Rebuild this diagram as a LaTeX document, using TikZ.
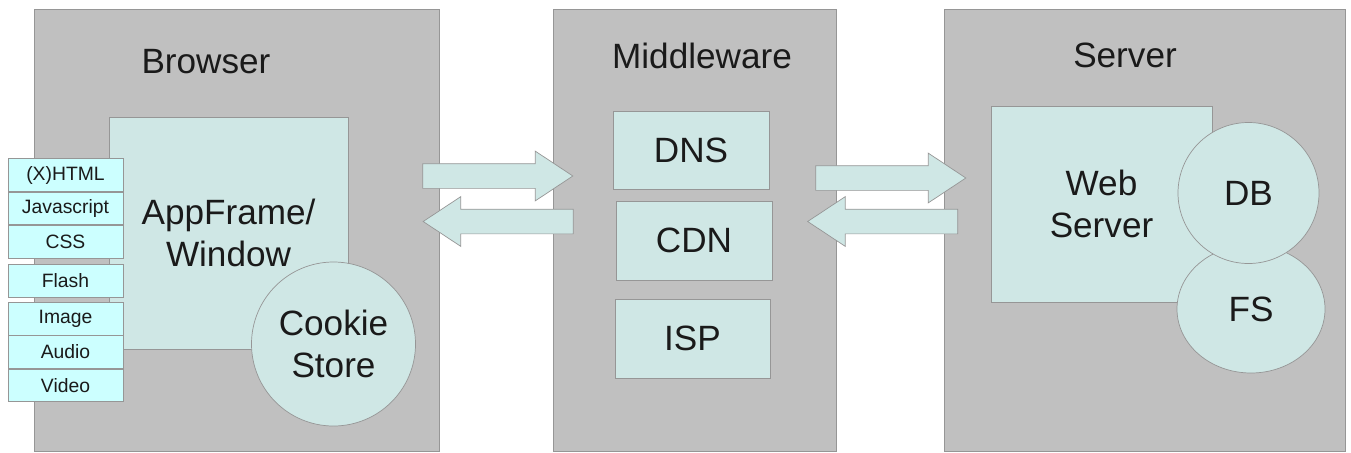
\documentclass[tikz,border=0pt]{standalone}
\usepackage{fontspec}
\setmainfont{Liberation Sans}
\usetikzlibrary{positioning,shapes.arrows,shapes.geometric}
\definecolor{panelgray}{RGB}{192,192,192}
\definecolor{edgegray}{RGB}{150,150,150}
\definecolor{boxteal}{RGB}{207,231,229}
\definecolor{tagcyan}{RGB}{204,255,255}
\definecolor{inkdark}{RGB}{26,26,26}
\tikzset{bigarrow/.style={single arrow, draw=edgegray, fill=boxteal, minimum height=30mm, single arrow head extend=2.5mm, single arrow tip angle=67, inner sep=2.4mm}}

\begin{document}
\begin{tikzpicture}[x=0.2mm, y=-0.2mm, font=\fontsize{20}{24}\selectfont, text=inkdark]
\tikzstyle{panel} = [rectangle, draw=edgegray, fill=panelgray, minimum height=88.4mm]
\tikzstyle{block} = [rectangle, draw=edgegray, fill=boxteal, align=center]
\tikzstyle{tag} = [rectangle, draw=edgegray, fill=tagcyan, minimum width=23mm, minimum height=6.55mm, inner sep=0pt, font=\fontsize{11}{13}\selectfont]
\tikzstyle{store} = [ellipse, draw=edgegray, fill=boxteal, align=center, inner sep=0pt]
\tikzstyle{title} = [inner sep=0pt]

\useasboundingbox (0,0) rectangle (1351,452);

% the three tiers
\node [panel, minimum width=81mm] (browser) at (236.5,230) {};
\node [panel, minimum width=56.6mm] (middleware) at (694.5,230) {};
\node [panel, minimum width=80.2mm] (server) at (1144.5,230) {};
\node [title] (tbrowser) at (206,62) {Browser};
\node [title] (tmiddleware) at (702,56) {Middleware};
\node [title] (tserver) at (1125,55) {Server};

% browser side
\node [block, minimum width=47.8mm, minimum height=46.4mm] (appframe) at (228.5,233) {AppFrame/\\Window};
\node [store, circle, minimum size=32.8mm] (cookie) at (333.5,344) {Cookie\\Store};

\node [tag] (xhtml) at (65.5,175) {(X)HTML};
\node [tag, below=0pt of xhtml] (js) {Javascript};
\node [tag, below=0pt of js] (css) {CSS};
\node [tag] (flash) at (65.5,280.5) {Flash};
\node [tag] (image) at (65.5,318.5) {Image};
\node [tag, below=0pt of image] (audio) {Audio};
\node [tag, below=0pt of audio] (video) {Video};

% middleware boxes
\node [block, minimum width=31.2mm, minimum height=15.6mm] (dns) at (691,150) {DNS};
\node [block, minimum width=31.2mm, minimum height=15.8mm] (cdn) at (694,240.5) {CDN};
\node [block, minimum width=31mm, minimum height=15.8mm] (isp) at (692.5,338.5) {ISP};

% server side
\node [block, minimum width=44.2mm, minimum height=39.2mm] (webserver) at (1101.5,204) {Web\\Server};
\node [store, minimum width=29.6mm, minimum height=25.6mm] (fs) at (1251,309) {FS};
\node [store, circle, minimum size=28.2mm] (db) at (1248.5,193) {DB};

% request / response arrows (node centre sits behind the head)
\node [bigarrow] (req1) at (488.5,176) {};
\node [bigarrow, shape border rotate=180] (resp1) at (507.5,221.5) {};
\node [bigarrow] (req2) at (881.5,178) {};
\node [bigarrow, shape border rotate=180] (resp2) at (892,221.5) {};

\end{tikzpicture}
\end{document}
